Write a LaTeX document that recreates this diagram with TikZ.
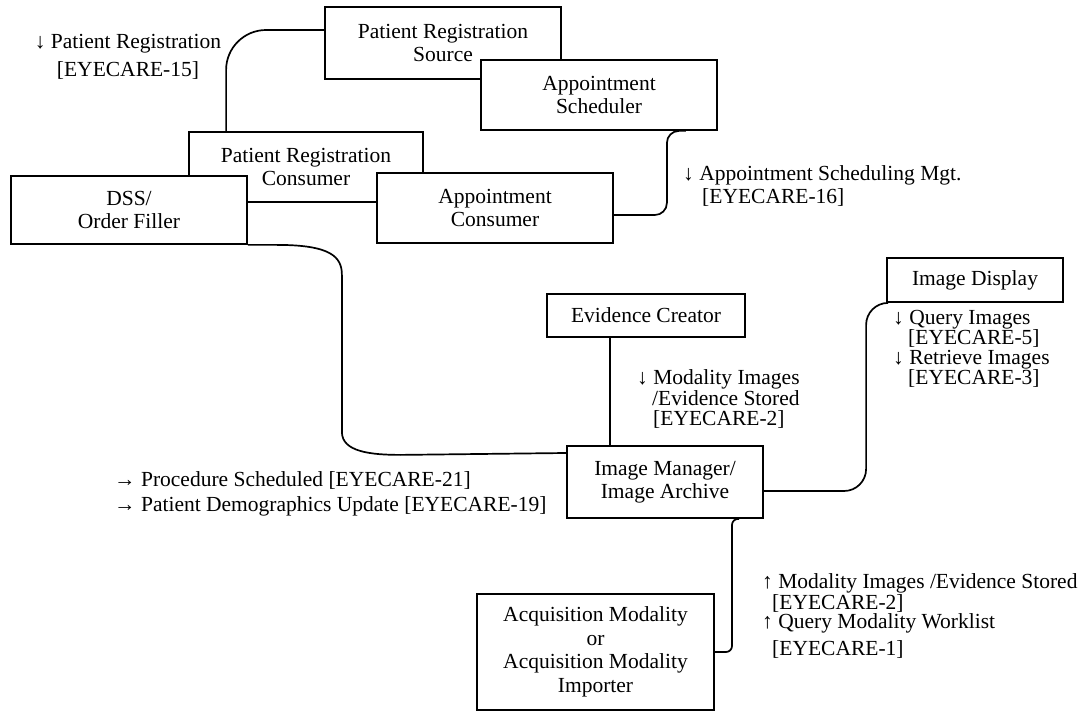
\documentclass[tikz,border=0pt]{standalone}
\usepackage{fontspec}
\setmainfont{Liberation Serif}
\usetikzlibrary{positioning}

\begin{document}
\begin{tikzpicture}[x=1pt, y=-1pt,
  actor/.style={draw, line width=1.8pt, fill=white, align=center, inner sep=0pt,
    font=\fontsize{21.5}{23.5}\selectfont},
  msg/.style={align=left, inner sep=0pt, font=\fontsize{21.5}{19.5}\selectfont},
  link/.style={line width=1.7pt}]
  \useasboundingbox (0,0) rectangle (1085,711);
  \node[actor, minimum width=236pt, minimum height=72pt] (prs) at (443,43) {Patient Registration\\Source};
  \node[actor, minimum width=236pt, minimum height=70pt] (as) at (599,95) {Appointment\\Scheduler};
  \node[actor, minimum width=234pt, minimum height=70pt] (prc) at (306,167) {Patient Registration\\Consumer};
  \node[actor, minimum width=236pt, minimum height=68pt] (dss) at (129,210) {DSS/\\Order Filler};
  \node[actor, minimum width=236pt, minimum height=70pt] (ac) at (495,208) {Appointment\\Consumer};
  \node[actor, minimum width=198pt, minimum height=43pt] (ec) at (646,315.5) {Evidence Creator};
  \node[actor, minimum width=176pt, minimum height=44pt] (id) at (975,280) {Image Display};
  \node[actor, minimum width=196pt, minimum height=72pt] (im) at (665,482) {Image Manager/\\Image Archive};
  \node[actor, minimum width=237pt, minimum height=116pt] (am) at (595.5,652) {Acquisition Modality\\or\\Acquisition Modality\\Importer};
  % transactions
  \draw[link, rounded corners=40pt] ([yshift=13pt]prs.west) -| ([xshift=38pt]prc.north west);
  \draw[link, rounded corners=12pt] ([xshift=-32pt]as.south east) -- ++(-19,0) |- ([yshift=-7pt]ac.east);
  \draw[link] (dss.south east) -- ++(29,0) .. controls +(54,0) and +(0,-18) .. ++(65,30)
    -- ++(0,157) .. controls +(0,20) and +(-30,0) .. ++(59,23) -- ([yshift=29pt]im.west);
  \draw[link] ([xshift=-36pt]ec.south) -- ([xshift=-36pt]ec.south |- im.north);
  \draw[link, rounded corners=22pt] ([yshift=-9pt]im.east) -| ([xshift=-20pt]id.south west) -- (id.south west);
  \draw[link, rounded corners=6pt] ([xshift=74pt]im.south) -- ++(-7,0) |- (am.east);
  \node[msg, align=center] (prmsg) at (128,57) {↓ Patient Registration\\[8pt][EYECARE-15]};
  \node[msg, anchor=west] (apmsg) at (683,186) {↓ Appointment Scheduling Mgt.\\[3pt]\hspace*{19pt}[EYECARE-16]};
  \node[msg, anchor=west] (ecmsg) at (637,399) {↓ Modality Images\\\hspace*{15pt}/Evidence Stored\\\hspace*{16pt}[EYECARE-2]};
  \node[msg, anchor=west] (idmsg) at (893,349) {↓ Query Images\\\hspace*{15pt}[EYECARE-5]\\↓ Retrieve Images\\\hspace*{15pt}[EYECARE-3]};
  \node[msg, anchor=west] (dssmsg) at (114,494) {→ Procedure Scheduled [EYECARE-21]\\[5pt]→ Patient Demographics Update [EYECARE-19]};
  \node[msg, anchor=west] (ammsg) at (762,616) {↑ Modality Images /Evidence Stored\\\hspace*{10pt}[EYECARE-2]\\↑ Query Modality Worklist\\[6pt]\hspace*{10pt}[EYECARE-1]};
\end{tikzpicture}
\end{document}
